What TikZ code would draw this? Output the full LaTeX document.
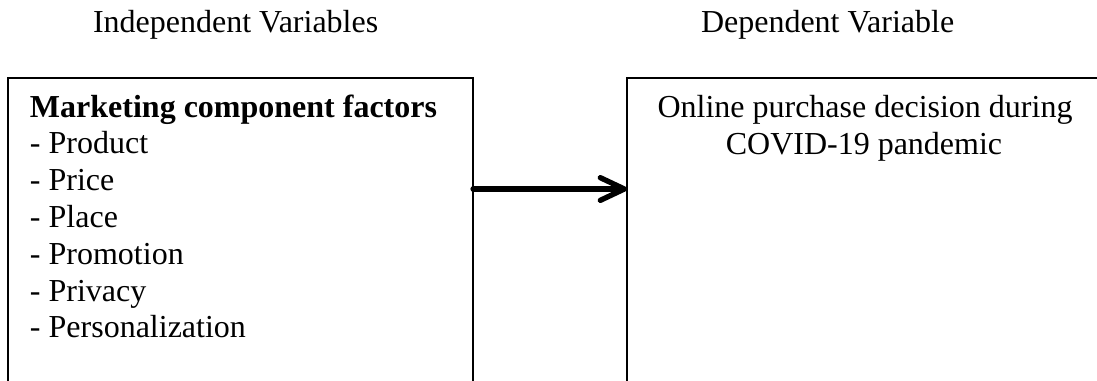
\documentclass[tikz,border=0pt]{standalone}
\usepackage{fontspec}
\setmainfont{Liberation Serif}
\usetikzlibrary{arrows.meta}

\begin{document}
\begin{tikzpicture}[
  x=0.375pt, y=-0.375pt,
  every node/.style={inner sep=0pt, outer sep=0pt, font=\fontsize{12pt}{13.8pt}\selectfont},
  txt/.style={anchor=base west},
  ctxt/.style={anchor=base},
  framebox/.style={draw, line width=1pt, anchor=north west, minimum height=130pt},
  link/.style={line width=2pt, line cap=round,
    -{Straight Barb[length=9pt, width=8.5pt, round]}}
]
\useasboundingbox (0,0) rectangle (1097,380);
\clip (0,0) rectangle (1097,380);

% column headings
\node[txt] (hIndep) at (93,32) {Independent Variables};
\node[txt] (hDep) at (701,32) {Dependent Variable};

% the two boxes (they run past the lower and right edges)
\node[framebox, minimum width=174.4pt] (indep) at (8,78) {};
\node[framebox, minimum width=190pt] (dep) at (627,78) {};

% contents of the left box
\node[txt] (mtitle) at (30,117) {\textbf{Marketing component factors}};
\node[txt] (iProduct) at (30,153.8) {- Product};
\node[txt] (iPrice) at (30,190.6) {- Price};
\node[txt] (iPlace) at (30,227.4) {- Place};
\node[txt] (iPromotion) at (30,264.2) {- Promotion};
\node[txt] (iPrivacy) at (30,301) {- Privacy};
\node[txt] (iPersonal) at (30,337.8) {- Personalization};

% contents of the right box
\node[ctxt] (dLineA) at (865,117) {Online purchase decision during};
\node[ctxt] (dLineB) at (864,154) {COVID-19 pandemic};

% arrow from the independent to the dependent box
\coordinate (arrowlevel) at (0,189);
\draw[link] (indep.east |- arrowlevel) -- (dep.west |- arrowlevel);
\end{tikzpicture}
\end{document}
